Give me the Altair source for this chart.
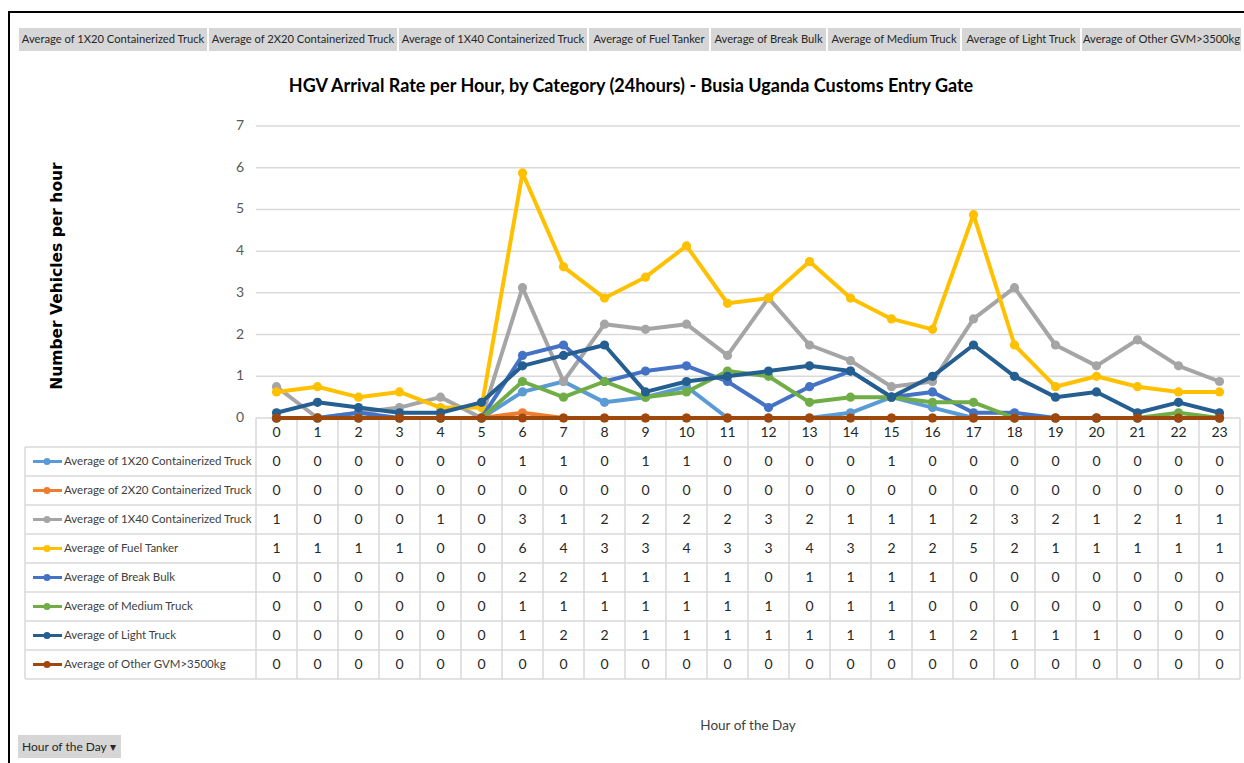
import altair as alt
import pandas as pd

# ---- data: hourly average arrivals per vehicle category ----
hours = list(range(24))
series = [
    "Average of 1X20 Containerized Truck",
    "Average of 2X20 Containerized Truck",
    "Average of 1X40 Containerized Truck",
    "Average of Fuel Tanker",
    "Average of Break Bulk",
    "Average of Medium Truck",
    "Average of Light Truck",
    "Average of Other GVM>3500kg",
]
colors = ["#5B9BD5", "#ED7D31", "#A5A5A5", "#FFC000",
          "#4472C4", "#70AD47", "#255E91", "#9E480E"]

c1x20 = [0, 0, 0, 0, 0, 0, 0.625, 0.875, 0.375, 0.5, 0.75, 0,
         0, 0, 0.125, 0.5, 0.25, 0, 0, 0, 0, 0, 0, 0]
c2x20 = [0, 0, 0, 0, 0, 0, 0.125, 0, 0, 0, 0, 0,
         0, 0, 0, 0, 0, 0, 0, 0, 0, 0, 0, 0]
c1x40 = [0.75, 0, 0.125, 0.25, 0.5, 0, 3.125, 0.875, 2.25, 2.125, 2.25, 1.5,
         2.875, 1.75, 1.375, 0.75, 0.875, 2.375, 3.125, 1.75, 1.25, 1.875, 1.25, 0.875]
fuel = [0.625, 0.75, 0.5, 0.625, 0.25, 0.25, 5.875, 3.625, 2.875, 3.375, 4.125, 2.75,
        2.875, 3.75, 2.875, 2.375, 2.125, 4.875, 1.75, 0.75, 1.0, 0.75, 0.625, 0.625]
break_bulk = [0, 0, 0.125, 0, 0, 0, 1.5, 1.75, 0.875, 1.125, 1.25, 0.875,
              0.25, 0.75, 1.125, 0.5, 0.625, 0.125, 0.125, 0, 0, 0, 0, 0]
medium = [0, 0, 0, 0, 0, 0, 0.875, 0.5, 0.875, 0.5, 0.625, 1.125,
          1.0, 0.375, 0.5, 0.5, 0.375, 0.375, 0, 0, 0, 0, 0.125, 0]
light = [0.125, 0.375, 0.25, 0.125, 0.125, 0.375, 1.25, 1.5, 1.75, 0.625, 0.875, 1.0,
         1.125, 1.25, 1.125, 0.5, 1.0, 1.75, 1.0, 0.5, 0.625, 0.125, 0.375, 0.125]
other_gvm = [0] * 24

values = [c1x20, c2x20, c1x40, fuel, break_bulk, medium, light, other_gvm]
y_ticks = list(range(8))

long = pd.DataFrame(
    [{"hour": h, "series": s, "value": v}
     for s, vals in zip(series, values) for h, v in zip(hours, vals)]
)

# ---- layout ----
W, H = 1244, 763
NARROW = "Lato, sans-serif"
GRID = "#D9D9D9"
TXT = "#404040"
PLOT_L, PLOT_R = 256, 1240
PLOT_TOP, PLOT_BOT = 126, 418
HEAD_BOT = 447
ROW_H = 29
TABLE_BOT = HEAD_BOT + ROW_H * len(series)
LEG_L = 25

one = pd.DataFrame({"k": [0]})

xs = alt.Scale(domain=[-0.5, 23.5], range=[PLOT_L, PLOT_R])
ys = alt.Scale(domain=[0, 7], range=[PLOT_BOT, PLOT_TOP])
rows = alt.Scale(type="point", domain=series, padding=0,
                 range=[HEAD_BOT + ROW_H / 2, TABLE_BOT - ROW_H / 2])
col = alt.Scale(domain=series, range=colors)

layers = []


def hrule(y, x1, x2, color=GRID, w=1.5):
    return alt.Chart(one).mark_rule(color=color, strokeWidth=w).encode(
        x=alt.value(x1), x2=alt.value(x2), y=alt.value(y))


def vrule(x, y1, y2, color=GRID, w=1.5):
    return alt.Chart(one).mark_rule(color=color, strokeWidth=w).encode(
        x=alt.value(x), y=alt.value(y1), y2=alt.value(y2))


def label(text, x, y, size=14, font=NARROW, color=TXT, **kw):
    return alt.Chart(one).mark_text(text=text, fontSize=size, font=font,
                                    color=color, **kw).encode(
        x=alt.value(x), y=alt.value(y))


# outer frame
layers.append(hrule(12, 8, W, color="black", w=2))
layers.append(vrule(9, 12, H, color="black", w=2))

# field buttons along the top
btn_edges = [18, 208, 398, 588, 710, 827, 961, 1081, 1242]
for i, name in enumerate(series):
    x1, x2 = btn_edges[i], btn_edges[i + 1]
    layers.append(alt.Chart(one).mark_rect(color="#D6D6D6").encode(
        x=alt.value(x1 + 1), x2=alt.value(x2 - 1),
        y=alt.value(28), y2=alt.value(51)))
    layers.append(label(name, (x1 + x2) / 2, 40, size=11.2, color="#262626",
                        align="center", baseline="middle"))

# title and axis titles
layers.append(label("HGV Arrival Rate per Hour, by Category (24hours) - Busia Uganda Customs Entry Gate",
                    631, 87, size=18, color="black", fontWeight="bold",
                    align="center", baseline="middle"))
layers.append(label("Number Vehicles per hour", 57, 276, size=15.5,
                    font="DejaVu Sans", color="black", fontWeight="bold",
                    angle=270, align="center", baseline="middle"))
layers.append(label("Hour of the Day", 748, 726, size=13.5,
                    align="center", baseline="middle"))

# pivot field button bottom-left
layers.append(alt.Chart(one).mark_rect(color="#D6D6D6").encode(
    x=alt.value(18), x2=alt.value(121), y=alt.value(735), y2=alt.value(758)))
layers.append(label("Hour of the Day \u25BE", 22, 747, size=12, color="#262626",
                    align="left", baseline="middle"))

# horizontal gridlines and y tick labels
ticks = pd.DataFrame({"t": y_ticks})
layers.append(alt.Chart(ticks).mark_rule(color=GRID, strokeWidth=1.5).encode(
    y=alt.Y("t:Q", scale=ys, axis=None),
    x=alt.value(PLOT_L), x2=alt.value(PLOT_R)))
layers.append(alt.Chart(ticks).mark_text(
    font=NARROW, fontSize=14, color="#595959", align="right", baseline="middle").encode(
    y=alt.Y("t:Q", scale=ys, axis=None), x=alt.value(244), text="t:Q"))

# data table grid
bounds = pd.DataFrame({"b": [h - 0.5 for h in hours] + [hours[-1] + 0.5]})
layers.append(alt.Chart(bounds).mark_rule(color=GRID, strokeWidth=1.5).encode(
    x=alt.X("b:Q", scale=xs, axis=None),
    y=alt.value(PLOT_BOT), y2=alt.value(TABLE_BOT)))
for i in range(len(series) + 1):
    layers.append(hrule(HEAD_BOT + i * ROW_H, LEG_L, PLOT_R))
layers.append(vrule(LEG_L, HEAD_BOT, TABLE_BOT))

# hour labels in the header row
hdf = pd.DataFrame({"hour": hours})
layers.append(alt.Chart(hdf).mark_text(
    font=NARROW, fontSize=14, color="#262626", baseline="middle").encode(
    x=alt.X("hour:Q", scale=xs, axis=None), y=alt.value(433), text="hour:Q"))

# table rows: legend keys, row names, rounded values
sdf = pd.DataFrame({"series": series})
row_y = alt.Y("series:N", scale=rows, axis=None)
color_enc = alt.Color("series:N", scale=col, legend=None)
layers.append(alt.Chart(sdf).mark_rule(strokeWidth=3).encode(
    y=row_y, x=alt.value(33), x2=alt.value(62), color=color_enc))
layers.append(alt.Chart(sdf).mark_point(filled=True, opacity=1, size=50, shape="circle").encode(
    y=row_y, x=alt.value(47), color=color_enc))
layers.append(alt.Chart(sdf).mark_text(
    font=NARROW, fontSize=11.5, color=TXT, align="left", baseline="middle").encode(
    y=row_y, x=alt.value(64), text="series:N"))
layers.append(alt.Chart(long).mark_text(
    font=NARROW, fontSize=14, color="#262626", baseline="middle").encode(
    x=alt.X("hour:Q", scale=xs, axis=None), y=row_y,
    text=alt.Text("value:Q", format=".0f")))

# one line + markers per category, drawn in category order
for s in series:
    sub = long[long["series"] == s]
    base = alt.Chart(sub).encode(
        x=alt.X("hour:Q", scale=xs, axis=None),
        y=alt.Y("value:Q", scale=ys, axis=None),
        color=color_enc)
    layers.append(base.mark_line(strokeWidth=4, strokeJoin="round"))
    layers.append(base.mark_point(filled=True, opacity=1, size=85, shape="circle"))

chart = alt.layer(*layers).resolve_scale(y="independent").properties(
    width=W, height=H, padding=0, autosize=alt.AutoSizeParams(type="none"),
    background="white"
).configure_view(stroke=None)

chart.save("out.html", embed_options={"renderer": "svg", "actions": False})
